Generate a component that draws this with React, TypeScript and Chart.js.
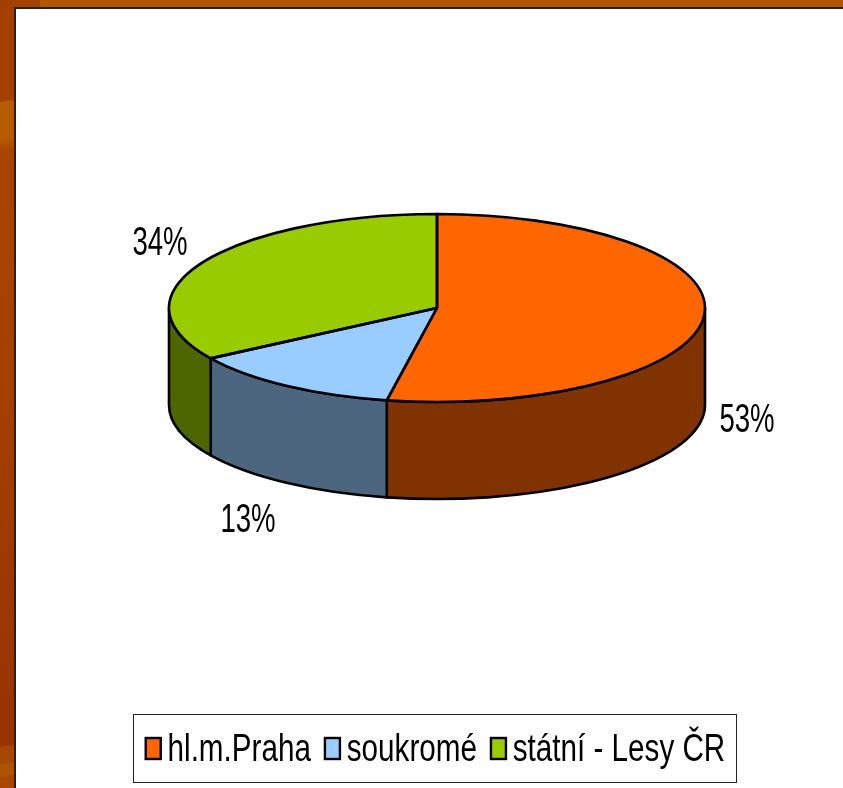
import React, { useEffect, useRef } from "react";
import { Chart, registerables } from "chart.js";

Chart.register(...registerables);

const categories = ["hl.m.Praha", "soukromé", "státní - Lesy ČR"];
const shares = [53, 13, 34];
const topColors = ["#FF6600", "#99CCFF", "#99CC00"];
const wallColors = ["#803300", "#4D6680", "#4D6600"];
const percentLabels = ["53%", "13%", "34%"];

const PIE = { cx: 437, cy: 308, rx: 268, ry: 94, depth: 97 };
const LABEL_AT = [
  { x: 747, y: 421 },
  { x: 248, y: 521 },
  { x: 160, y: 244 },
];
const FONT = '"Liberation Sans", Arial, sans-serif';
const SWATCH = { w: 15, h: 21 };
const LEGEND_SQUEEZE = 0.78;
const LABEL_SQUEEZE = 0.69;
const LEGEND_CX = 435.5;

const squeezeX = (x: number) => LEGEND_CX + (x - LEGEND_CX) * LEGEND_SQUEEZE;

const pie3d = {
  id: "pie3d",
  beforeDraw(chart: any) {
    const legend = chart.legend;
    if (legend.__squeezed) return;
    legend.__squeezed = true;
    const original = legend.draw;
    legend.draw = function (...args: any[]) {
      const { ctx } = chart;
      ctx.save();
      ctx.translate(LEGEND_CX, 0);
      ctx.scale(LEGEND_SQUEEZE, 1);
      ctx.translate(-LEGEND_CX, 0);
      original.apply(this, args);
      ctx.restore();
    };
  },
  beforeDatasetsDraw(chart: any) {
    const { ctx } = chart;
    const arcs = chart.getDatasetMeta(0).data;
    ctx.save();
    ctx.lineWidth = 2.6;
    ctx.strokeStyle = "#000";
    ctx.lineJoin = "round";
    arcs.forEach((arc: any, i: number) => {
      const a = Math.max(arc.startAngle, 0);
      const b = Math.min(arc.endAngle, Math.PI);
      if (b <= a) return;
      ctx.beginPath();
      ctx.ellipse(PIE.cx, PIE.cy, PIE.rx, PIE.ry, 0, a, b);
      ctx.ellipse(PIE.cx, PIE.cy + PIE.depth, PIE.rx, PIE.ry, 0, b, a, true);
      ctx.closePath();
      ctx.fillStyle = wallColors[i];
      ctx.fill();
      ctx.stroke();
    });
    ctx.restore();
    const first = arcs[0];
    ctx.save();
    ctx.translate(PIE.cx, PIE.cy);
    ctx.scale(PIE.rx / first.outerRadius, PIE.ry / first.outerRadius);
    ctx.translate(-first.x, -first.y);
  },
  afterDatasetsDraw(chart: any) {
    const { ctx } = chart;
    ctx.restore();
    const arcs = chart.getDatasetMeta(0).data;
    ctx.save();
    ctx.lineWidth = 2.6;
    ctx.strokeStyle = "#000";
    ctx.lineJoin = "round";
    arcs.forEach((arc: any) => {
      ctx.beginPath();
      ctx.moveTo(PIE.cx, PIE.cy);
      ctx.ellipse(PIE.cx, PIE.cy, PIE.rx, PIE.ry, 0, arc.startAngle, arc.endAngle);
      ctx.closePath();
      ctx.stroke();
    });
    ctx.fillStyle = "#000";
    ctx.font = `40px ${FONT}`;
    ctx.textAlign = "center";
    ctx.textBaseline = "middle";
    percentLabels.forEach((t, i) => {
      ctx.save();
      ctx.translate(LABEL_AT[i].x, LABEL_AT[i].y);
      ctx.scale(LABEL_SQUEEZE, 1);
      ctx.fillText(t, 0, 0);
      ctx.restore();
    });
    ctx.restore();
  },
  afterDraw(chart: any) {
    const { ctx, legend } = chart;
    const boxes = legend.legendHitBoxes;
    ctx.save();
    ctx.strokeStyle = "#222";
    ctx.lineWidth = 1;
    ctx.strokeRect(133.5, 714.5, 603, 68);
    ctx.strokeStyle = "#000";
    ctx.lineWidth = 2.4;
    boxes.forEach((b: any, i: number) => {
      const y = 738;
      const x = squeezeX(b.left);
      ctx.fillStyle = topColors[i];
      ctx.fillRect(x, y, SWATCH.w, SWATCH.h);
      ctx.strokeRect(x, y, SWATCH.w, SWATCH.h);
    });
    ctx.restore();
  },
};

export default function App() {
  const ref = useRef<HTMLCanvasElement | null>(null);
  useEffect(() => {
    document.body.style.margin = "0";
    const chart = new Chart(ref.current as HTMLCanvasElement, {
      type: "pie",
      data: {
        labels: categories,
        datasets: [
          {
            data: shares,
            backgroundColor: topColors,
            borderWidth: 0,
            radius: 268,
            clip: false,
          } as any,
        ],
      },
      options: {
        responsive: false,
        animation: false,
        events: [],
        layout: { padding: { left: 28, bottom: 8 } },
        plugins: {
          tooltip: { enabled: false },
          title: { display: false },
          legend: {
            display: true,
            position: "bottom",
            labels: {
              font: { family: FONT, size: 38 },
              color: "#000",
              boxWidth: 9,
              boxHeight: 4,
              padding: 18,
              generateLabels: (c: any) =>
                c.data.labels.map((text: string, i: number) => ({
                  text,
                  fillStyle: "rgba(0,0,0,0)",
                  strokeStyle: "rgba(0,0,0,0)",
                  lineWidth: 0,
                  index: i,
                })),
            },
          },
        },
      },
      plugins: [pie3d],
    } as any);
    return () => chart.destroy();
  }, []);
  return (
    <div
      style={{
        position: "relative",
        width: 843,
        height: 788,
        overflow: "hidden",
        background:
          "linear-gradient(172deg,#A34000 0,#A34000 100px,#B85C00 102px,#B85C00 135px,#A84500 150px,#A34000 400px,#973300 738px,#A84800 741px,#A84800 756px,#AC5500 758px,#AC5500 768px,#A84600 771px,#AD4A00 800px)",
      }}
    >
      <div style={{ position: "absolute", left: 40, top: 0, right: 0, height: 8, background: "#B35500" }} />
      <div
        style={{
          position: "absolute",
          left: 14,
          top: 7,
          right: -5,
          bottom: -5,
          background: "#fff",
          borderLeft: "2px solid #2A2020",
          borderTop: "2px solid #2A2020",
        }}
      />
      <canvas ref={ref} width={843} height={788} style={{ position: "absolute", left: 0, top: 0, display: "block" }} />
    </div>
  );
}
